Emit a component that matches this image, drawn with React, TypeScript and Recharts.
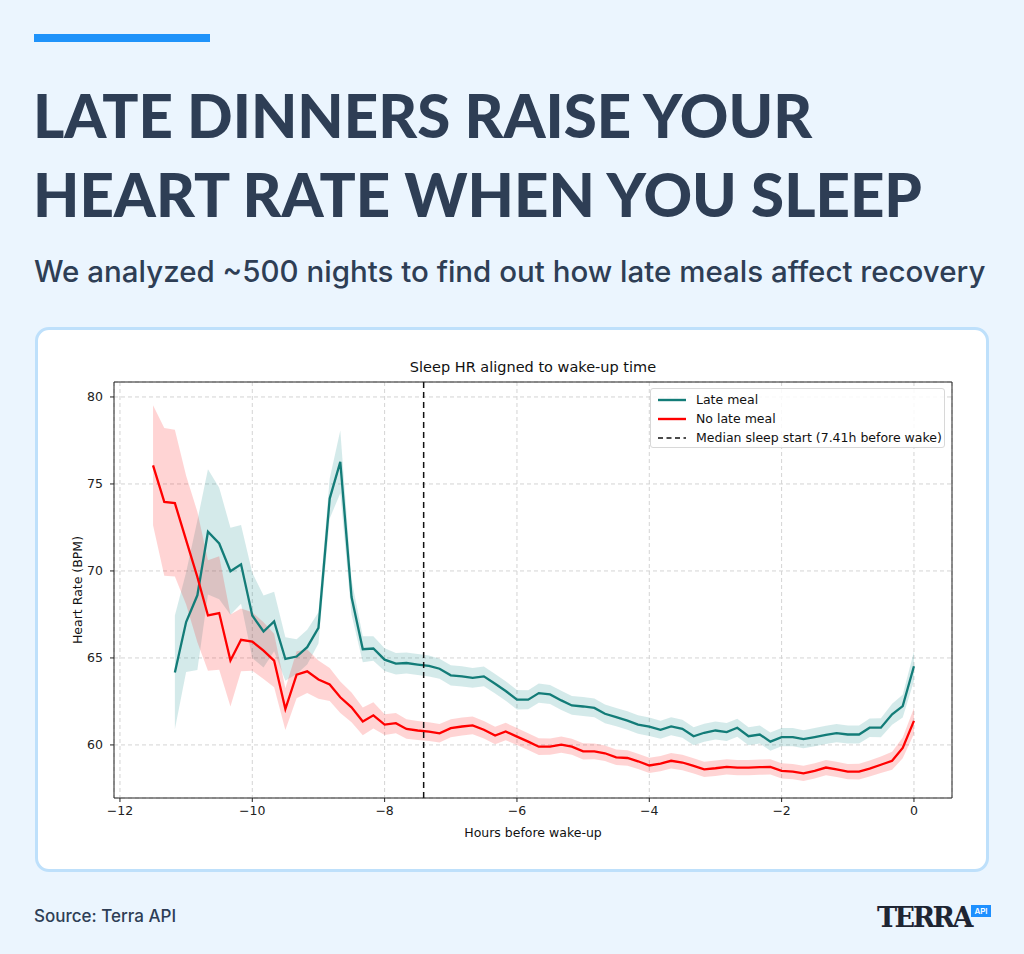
import React from "react";
import {
  ComposedChart,
  Line,
  Area,
  XAxis,
  YAxis,
  CartesianGrid,
  ReferenceLine,
} from "recharts";

// hours before wake-up, one sample every 10 minutes
const HOURS = [
  -11.5, -11.33, -11.17, -11, -10.83, -10.67, -10.5, -10.33, -10.17, -10,
  -9.83, -9.67, -9.5, -9.33, -9.17, -9, -8.83, -8.67, -8.5, -8.33,
  -8.17, -8, -7.83, -7.67, -7.5, -7.33, -7.17, -7, -6.83, -6.67,
  -6.5, -6.33, -6.17, -6, -5.83, -5.67, -5.5, -5.33, -5.17, -5,
  -4.83, -4.67, -4.5, -4.33, -4.17, -4, -3.83, -3.67, -3.5, -3.33,
  -3.17, -3, -2.83, -2.67, -2.5, -2.33, -2.17, -2, -1.83, -1.67,
  -1.5, -1.33, -1.17, -1, -0.83, -0.67, -0.5, -0.33, -0.17, 0,
];

const LATE_MEAL = [
  null, null, 64.17, 67.06, 68.6, 72.25, 71.58, 69.98, 70.38, 67.44,
  66.52, 67.1, 64.94, 65.08, 65.62, 66.73, 74.16, 76.27, 68.5, 65.5,
  65.54, 64.9, 64.67, 64.71, 64.62, 64.54, 64.38, 64.0, 63.94, 63.85,
  63.94, 63.52, 63.1, 62.6, 62.6, 62.98, 62.9, 62.56, 62.27, 62.21,
  62.13, 61.79, 61.6, 61.4, 61.17, 61.05, 60.87, 61.07, 60.93, 60.5,
  60.7, 60.83, 60.74, 60.99, 60.5, 60.6, 60.19, 60.45, 60.45, 60.33,
  60.45, 60.58, 60.68, 60.6, 60.6, 60.99, 60.99, 61.76, 62.23, 64.52,
];

// half-width of the shaded band
const LATE_MEAL_ERR = [
  null, null, 3.27, 2.87, 4.3, 3.6, 3.2, 2.5, 2.26, 2.45,
  2.07, 1.71, 1.25, 1.0, 1.0, 0.9, 1.15, 1.8, 1.0, 0.75,
  0.7, 0.65, 0.62, 0.6, 0.6, 0.6, 0.58, 0.58, 0.58, 0.57,
  0.57, 0.56, 0.56, 0.56, 0.55, 0.55, 0.55, 0.55, 0.54, 0.54,
  0.54, 0.54, 0.53, 0.53, 0.53, 0.53, 0.52, 0.52, 0.52, 0.52,
  0.52, 0.52, 0.52, 0.52, 0.52, 0.52, 0.52, 0.52, 0.52, 0.52,
  0.52, 0.52, 0.52, 0.52, 0.52, 0.53, 0.55, 0.6, 0.65, 0.85,
];

const NO_LATE_MEAL = [
  76.07, 73.97, 73.9, 71.77, 69.65, 67.44, 67.58, 64.85, 66.04, 65.94,
  65.42, 64.85, 62.06, 64.04, 64.23, 63.76, 63.47, 62.74, 62.16, 61.35,
  61.7, 61.17, 61.25, 60.92, 60.83, 60.77, 60.67, 60.96, 61.06, 61.12,
  60.87, 60.54, 60.77, 60.48, 60.19, 59.9, 59.9, 60.02, 59.9, 59.63,
  59.63, 59.52, 59.29, 59.25, 59.06, 58.82, 58.93, 59.09, 58.99, 58.8,
  58.6, 58.66, 58.74, 58.7, 58.7, 58.72, 58.74, 58.51, 58.47, 58.37,
  58.51, 58.7, 58.59, 58.47, 58.47, 58.64, 58.86, 59.09, 59.83, 61.38,
];

const NO_LATE_MEAL_ERR = [
  3.45, 4.25, 4.22, 3.7, 3.75, 3.17, 3.26, 2.64, 1.8, 1.68,
  1.63, 1.54, 1.2, 1.35, 1.25, 1.1, 0.95, 0.9, 0.85, 0.8,
  0.75, 0.6, 0.58, 0.56, 0.55, 0.54, 0.53, 0.52, 0.52, 0.51,
  0.5, 0.5, 0.5, 0.49, 0.48, 0.48, 0.47, 0.47, 0.46, 0.46,
  0.45, 0.45, 0.45, 0.45, 0.44, 0.44, 0.44, 0.44, 0.44, 0.44,
  0.44, 0.44, 0.44, 0.44, 0.44, 0.44, 0.44, 0.44, 0.44, 0.44,
  0.44, 0.44, 0.44, 0.44, 0.45, 0.46, 0.48, 0.52, 0.6, 0.75,
];

const X_TICKS = [-12, -10, -8, -6, -4, -2, 0];
const Y_TICKS = [60, 65, 70, 75, 80];
const X_DOMAIN = [-12.09, 0.575];
const Y_DOMAIN = [56.95, 80.86];
const MEDIAN_SLEEP_START = -7.41;

const TEAL = "#137C78";
const RED = "#FF0000";
const INK = "#2E3E55";

const data = HOURS.map((h, i) => {
  const late = LATE_MEAL[i];
  const lateErr = LATE_MEAL_ERR[i];
  const none = NO_LATE_MEAL[i];
  const noneErr = NO_LATE_MEAL_ERR[i];
  return {
    h,
    late,
    lateBand: late == null || lateErr == null ? null : [late - lateErr, late + lateErr],
    none,
    noneBand: [none - noneErr, none + noneErr],
  };
});

const fmtTick = (v: number) => (v < 0 ? `\u2212${Math.abs(v)}` : `${v}`);

const tickStyle = { fontFamily: "DejaVu Sans", fontSize: 12.5, fill: "#222" };

const LegendRow = ({ color, dashed, label }: { color: string; dashed?: boolean; label: string }) => (
  <div style={{ display: "flex", alignItems: "center", height: 19 }}>
    <svg width={30} height={6} style={{ marginLeft: 6, marginRight: 9 }}>
      <line
        x1={1}
        x2={29}
        y1={3}
        y2={3}
        stroke={color}
        strokeWidth={dashed ? 1.6 : 2.4}
        strokeDasharray={dashed ? "5 3.5" : undefined}
      />
    </svg>
    <span>{label}</span>
  </div>
);

export default function App() {
  return (
    <div
      style={{
        position: "absolute",
        left: 0,
        top: 0,
        width: 1024,
        height: 954,
        background: "#EBF5FE",
        overflow: "hidden",
        fontFamily: "Inter",
        color: INK,
      }}
    >
      <div style={{ position: "absolute", left: 34, top: 34, width: 176, height: 8, background: "#1F93FA" }} />
      <div
        style={{
          position: "absolute",
          left: 33,
          top: 76,
          fontFamily: "Lato",
          fontWeight: 900,
          fontSize: 60,
          lineHeight: "79px",
          whiteSpace: "nowrap",
        }}
      >
        LATE DINNERS RAISE YOUR
        <br />
        HEART RATE WHEN YOU SLEEP
      </div>
      <div
        style={{
          position: "absolute",
          left: 34,
          top: 253,
          fontSize: 29.5,
          fontWeight: 500,
          lineHeight: "36px",
          whiteSpace: "nowrap",
        }}
      >
        We analyzed ~500 nights to find out how late meals affect recovery
      </div>

      <div
        style={{
          position: "absolute",
          left: 35,
          top: 327,
          width: 948,
          height: 539,
          background: "#fff",
          border: "3px solid #BEE0FB",
          borderRadius: 14,
        }}
      />

      <div
        style={{
          position: "absolute",
          left: 233,
          top: 359,
          width: 600,
          textAlign: "center",
          fontFamily: "DejaVu Sans",
          fontSize: 14.5,
          color: "#111",
        }}
      >
        Sleep HR aligned to wake-up time
      </div>

      <div style={{ position: "absolute", left: 40, top: 340 }}>
        <ComposedChart
          width={940}
          height={520}
          data={data}
          margin={{ top: 42, right: 28, left: 30, bottom: 18 }}
        >
          <CartesianGrid stroke="#d4d4d4" strokeDasharray="4 3" />
          <XAxis
            dataKey="h"
            type="number"
            domain={X_DOMAIN}
            allowDataOverflow
            ticks={X_TICKS}
            tickFormatter={fmtTick}
            tick={tickStyle}
            tickSize={4}
            tickMargin={4}
            height={44}
            stroke="#222"
            label={{
              value: "Hours before wake-up",
              position: "insideBottom",
              offset: 5,
              style: { fontFamily: "DejaVu Sans", fontSize: 12.5, fill: "#111" },
            }}
          />
          <YAxis
            type="number"
            domain={Y_DOMAIN}
            allowDataOverflow
            ticks={Y_TICKS}
            tick={tickStyle}
            tickSize={4}
            tickMargin={7}
            width={44}
            stroke="#222"
            label={{
              value: "Heart Rate (BPM)",
              angle: -90,
              position: "insideLeft",
              offset: 8,
              style: { fontFamily: "DejaVu Sans", fontSize: 12.5, fill: "#111", textAnchor: "middle" },
            }}
          />
          <Area
            dataKey="lateBand"
            type="linear"
            stroke="none"
            fill="#008080"
            fillOpacity={0.17}
            isAnimationActive={false}
            activeDot={false}
          />
          <Area
            dataKey="noneBand"
            type="linear"
            stroke="none"
            fill={RED}
            fillOpacity={0.17}
            isAnimationActive={false}
            activeDot={false}
          />
          <Line
            dataKey="late"
            type="linear"
            stroke={TEAL}
            strokeWidth={2.3}
            dot={false}
            isAnimationActive={false}
          />
          <Line
            dataKey="none"
            type="linear"
            stroke={RED}
            strokeWidth={2.3}
            dot={false}
            isAnimationActive={false}
          />
          <ReferenceLine x={MEDIAN_SLEEP_START} stroke="#111" strokeWidth={1.5} strokeDasharray="6 4" />
          {/* top and right spines of the plot frame */}
          <ReferenceLine y={Y_DOMAIN[1]} stroke="#222" ifOverflow="extendDomain" />
          <ReferenceLine x={X_DOMAIN[1]} stroke="#222" ifOverflow="extendDomain" />
        </ComposedChart>
      </div>

      <div
        style={{
          position: "absolute",
          left: 650,
          top: 388,
          width: 295,
          height: 60,
          background: "rgba(255,255,255,0.85)",
          border: "1px solid #d8d8d8",
          borderRadius: 3,
          fontFamily: "DejaVu Sans",
          fontSize: 12.5,
          color: "#111",
          paddingTop: 1,
          boxSizing: "border-box",
        }}
      >
        <LegendRow color={TEAL} label="Late meal" />
        <LegendRow color={RED} label="No late meal" />
        <LegendRow color="#111" dashed label="Median sleep start (7.41h before wake)" />
      </div>

      <div style={{ position: "absolute", left: 34, top: 906, fontSize: 17, fontWeight: 500 }}>
        Source: Terra API
      </div>
      <div
        style={{
          position: "absolute",
          left: 877,
          top: 903,
          fontFamily: "DejaVu Serif",
          fontWeight: 700,
          fontSize: 27,
          lineHeight: "30px",
          letterSpacing: -2.5,
          color: "#1E2533",
        }}
      >
        TERRA
      </div>
      <div
        style={{
          position: "absolute",
          left: 971,
          top: 905,
          width: 20,
          height: 12,
          background: "#1E90FF",
          color: "#fff",
          fontSize: 8,
          fontWeight: 600,
          lineHeight: "12px",
          textAlign: "center",
        }}
      >
        API
      </div>
    </div>
  );
}
